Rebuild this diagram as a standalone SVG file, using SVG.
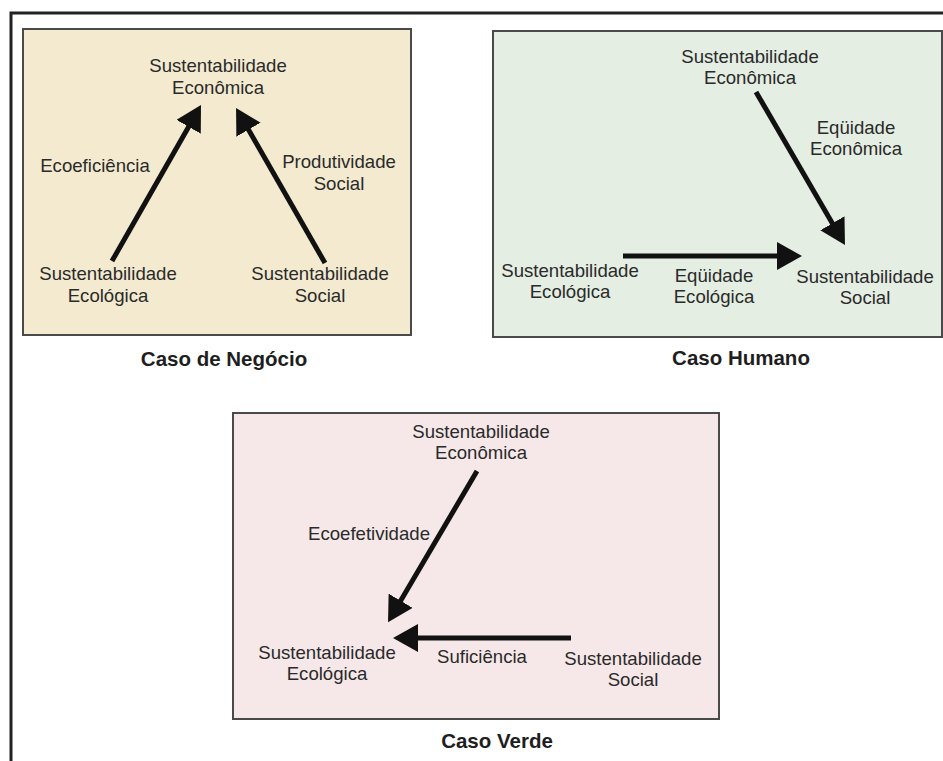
<svg xmlns="http://www.w3.org/2000/svg" width="943" height="761" viewBox="0 0 943 761">
  <style>
    .panel { stroke: #4a4a4a; stroke-width: 2; }
    .lbl { font-family: "Liberation Sans", Arial, sans-serif; font-size: 18.6px; fill: #2a2a2a; text-anchor: middle; }
    .title { font-family: "Liberation Sans", Arial, sans-serif; font-size: 20.5px; font-weight: bold; fill: #1e1e1e; text-anchor: middle; }
    .arrow { stroke: #111; stroke-width: 5; fill: none; marker-end: url(#head); }
  </style>
  <defs>
    <marker id="head" viewBox="0 0 25 28" markerUnits="userSpaceOnUse" markerWidth="25" markerHeight="28" refX="1" refY="14" orient="auto">
      <path d="M0,0 L25,14 L0,28 z" fill="#111"/>
    </marker>
  </defs>

  <rect width="943" height="761" fill="#ffffff"/>
  <!-- outer frame: top and left edges -->
  <path d="M11,761 V13 H943" fill="none" stroke="#222" stroke-width="3"/>

  <!-- Caso de Negócio -->
  <g id="panel-negocio">
    <rect class="panel" x="23" y="29" width="388" height="306" fill="#f3ead0"/>
    <text class="title" x="224" y="366">Caso de Negócio</text>
  </g>
  <g id="neg-economica"><text class="lbl" x="218" y="72">Sustentabilidade<tspan x="218" dy="22">Econômica</tspan></text></g>
  <g id="neg-ecologica"><text class="lbl" x="108" y="280">Sustentabilidade<tspan x="108" dy="22">Ecológica</tspan></text></g>
  <g id="neg-social"><text class="lbl" x="320" y="280">Sustentabilidade<tspan x="320" dy="22">Social</tspan></text></g>

  <!-- Caso Humano -->
  <g id="panel-humano">
    <rect class="panel" x="493" y="31" width="449" height="306" fill="#e4eee2"/>
    <text class="title" x="741" y="365">Caso Humano</text>
  </g>
  <g id="hum-economica"><text class="lbl" x="750" y="63">Sustentabilidade<tspan x="750" dy="21">Econômica</tspan></text></g>
  <g id="hum-ecologica"><text class="lbl" x="570" y="277">Sustentabilidade<tspan x="570" dy="21">Ecológica</tspan></text></g>
  <g id="hum-social"><text class="lbl" x="865" y="283">Sustentabilidade<tspan x="865" dy="21">Social</tspan></text></g>

  <!-- Caso Verde -->
  <g id="panel-verde">
    <rect class="panel" x="233" y="413" width="486" height="306" fill="#f6e8e8"/>
    <text class="title" x="497" y="748">Caso Verde</text>
  </g>
  <g id="ver-economica"><text class="lbl" x="481" y="438">Sustentabilidade<tspan x="481" dy="21">Econômica</tspan></text></g>
  <g id="ver-ecologica"><text class="lbl" x="327" y="659">Sustentabilidade<tspan x="327" dy="21">Ecológica</tspan></text></g>
  <g id="ver-social"><text class="lbl" x="633" y="665">Sustentabilidade<tspan x="633" dy="21">Social</tspan></text></g>

  <g id="connectors">
    <!-- Caso de Negócio -->
    <line class="arrow" x1="112" y1="261" x2="189.1" y2="125.9"/>
    <text class="lbl" x="95" y="172">Ecoeficiência</text>
    <line class="arrow" x1="325" y1="263" x2="248" y2="128.8"/>
    <text class="lbl" x="339" y="168">Produtividade<tspan x="339" dy="22">Social</tspan></text>

    <!-- Caso Humano -->
    <line class="arrow" x1="756" y1="92" x2="832.9" y2="224.2"/>
    <text class="lbl" x="856" y="134">Eqüidade<tspan x="856" dy="21">Econômica</tspan></text>
    <line class="arrow" x1="623" y1="256" x2="778" y2="256"/>
    <text class="lbl" x="714" y="282">Eqüidade<tspan x="714" dy="21">Ecológica</tspan></text>

    <!-- Caso Verde -->
    <line class="arrow" x1="477" y1="471" x2="400.2" y2="601.6"/>
    <text class="lbl" x="369" y="540">Ecoefetividade</text>
    <line class="arrow" x1="571" y1="638" x2="417" y2="638"/>
    <text class="lbl" x="482" y="663">Suficiência</text>
  </g>
</svg>
